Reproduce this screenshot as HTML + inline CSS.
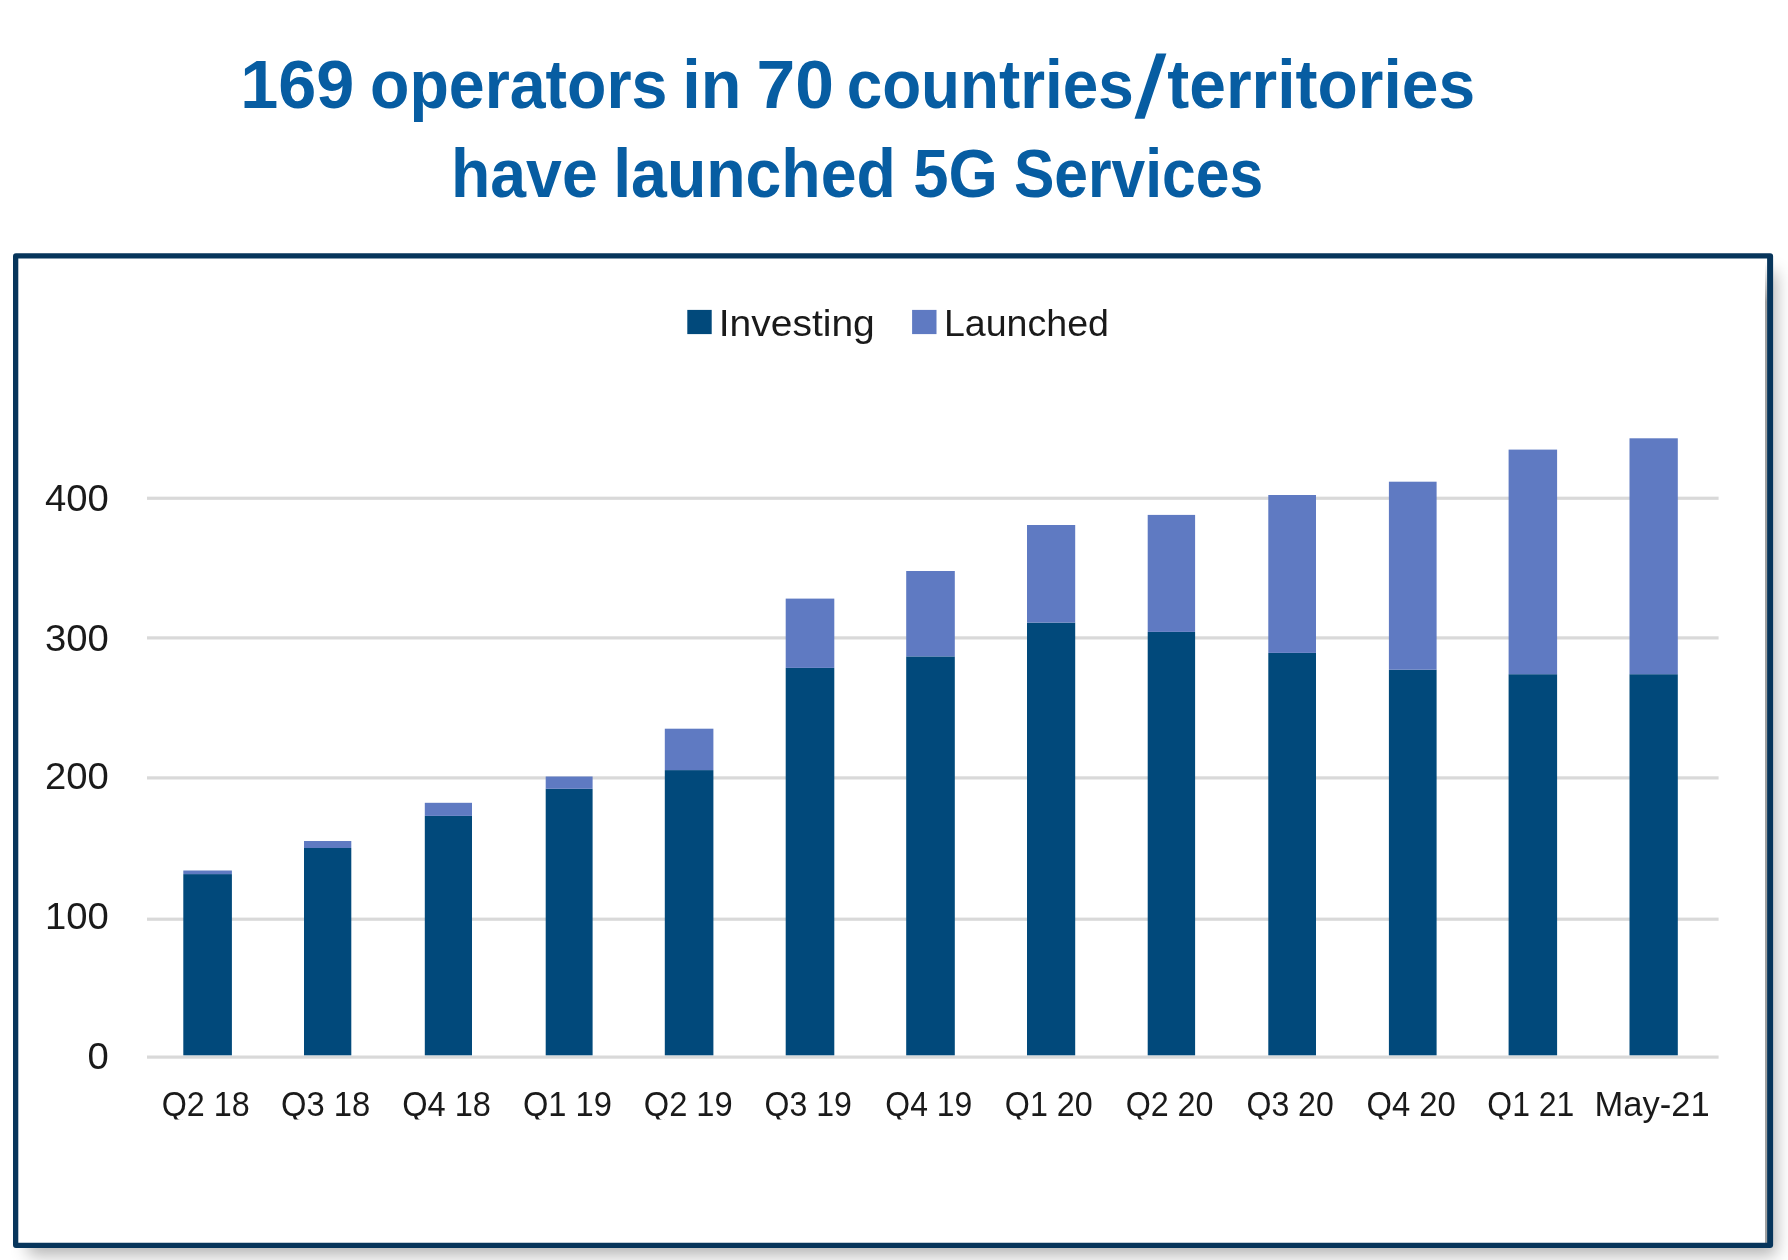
<!DOCTYPE html>
<html><head><meta charset="utf-8"><style>
html,body{margin:0;padding:0;background:#fff;}
body{width:1788px;height:1260px;position:relative;overflow:hidden;font-family:"Liberation Sans",sans-serif;}
.frame{position:absolute;left:13px;top:253px;width:1760px;height:995px;border-radius:3px;box-shadow:9px 13px 16px -6px rgba(0,0,0,0.3);background:#fff;}
</style></head><body>
<div class="frame"></div>
<div style="position:absolute;left:1765px;top:262px;width:2.1px;height:981px;background:linear-gradient(to bottom,rgba(150,150,150,0),rgba(150,150,150,0.9) 40px,rgba(150,150,150,0.9));filter:blur(0.5px)"></div>
<svg width="1788" height="1260" viewBox="0 0 1788 1260" style="position:absolute;left:0;top:0;filter:blur(0.45px)" font-family="Liberation Sans, sans-serif">
<path fill-rule="evenodd" fill="#07355b" d="M16.00 253.20H1770.10Q1773.10 253.20 1773.10 256.20V1245.00Q1773.10 1248.00 1770.10 1248.00H16.00Q13.00 1248.00 13.00 1245.00V256.20Q13.00 253.20 16.00 253.20Z M18.3 258.6H1767.1V1242.8H18.3Z"/>
<rect x="147.0" y="496.65" width="1571.60" height="3.2" fill="#d9d9d9"/>
<rect x="147.0" y="636.30" width="1571.60" height="3.2" fill="#d9d9d9"/>
<rect x="147.0" y="776.30" width="1571.60" height="3.2" fill="#d9d9d9"/>
<rect x="147.0" y="917.60" width="1571.60" height="3.2" fill="#d9d9d9"/>
<rect x="147.0" y="1055.50" width="1571.60" height="3.2" fill="#d9d9d9"/>
<rect x="183.3" y="874.10" width="48.60" height="181.20" fill="#01497b"/>
<rect x="183.3" y="870.50" width="48.60" height="3.60" fill="#5f7ac2"/>
<rect x="304.0" y="848.00" width="47.30" height="207.30" fill="#01497b"/>
<rect x="304.0" y="841.00" width="47.30" height="7.00" fill="#5f7ac2"/>
<rect x="424.8" y="815.90" width="47.20" height="239.40" fill="#01497b"/>
<rect x="424.8" y="802.80" width="47.20" height="13.10" fill="#5f7ac2"/>
<rect x="545.7" y="788.80" width="46.90" height="266.50" fill="#01497b"/>
<rect x="545.7" y="776.50" width="46.90" height="12.30" fill="#5f7ac2"/>
<rect x="664.8" y="770.10" width="48.60" height="285.20" fill="#01497b"/>
<rect x="664.8" y="728.70" width="48.60" height="41.40" fill="#5f7ac2"/>
<rect x="785.7" y="667.90" width="48.60" height="387.40" fill="#01497b"/>
<rect x="785.7" y="598.60" width="48.60" height="69.30" fill="#5f7ac2"/>
<rect x="906.2" y="656.40" width="48.60" height="398.90" fill="#01497b"/>
<rect x="906.2" y="571.00" width="48.60" height="85.40" fill="#5f7ac2"/>
<rect x="1027.0" y="622.60" width="48.20" height="432.70" fill="#01497b"/>
<rect x="1027.0" y="525.00" width="48.20" height="97.60" fill="#5f7ac2"/>
<rect x="1147.7" y="631.90" width="47.40" height="423.40" fill="#01497b"/>
<rect x="1147.7" y="514.90" width="47.40" height="117.00" fill="#5f7ac2"/>
<rect x="1268.3" y="652.90" width="47.70" height="402.40" fill="#01497b"/>
<rect x="1268.3" y="495.00" width="47.70" height="157.90" fill="#5f7ac2"/>
<rect x="1388.9" y="669.70" width="47.70" height="385.60" fill="#01497b"/>
<rect x="1388.9" y="481.70" width="47.70" height="188.00" fill="#5f7ac2"/>
<rect x="1508.6" y="674.20" width="48.50" height="381.10" fill="#01497b"/>
<rect x="1508.6" y="449.60" width="48.50" height="224.60" fill="#5f7ac2"/>
<rect x="1629.5" y="674.20" width="48.30" height="381.10" fill="#01497b"/>
<rect x="1629.5" y="438.30" width="48.30" height="235.90" fill="#5f7ac2"/>
<text transform="translate(240.16 107.70) scale(0.9880 1)" font-size="69.20" font-weight="bold" fill="#075da2">169</text>
<text transform="translate(370.02 107.70) scale(0.9321 1)" font-size="69.20" font-weight="bold" fill="#075da2">operators</text>
<text transform="translate(682.34 107.70) scale(0.9628 1)" font-size="69.20" font-weight="bold" fill="#075da2">in</text>
<text transform="translate(756.57 107.70) scale(1.0052 1)" font-size="69.20" font-weight="bold" fill="#075da2">70</text>
<text transform="translate(846.65 107.70) scale(0.9220 1)" font-size="69.20" font-weight="bold" fill="#075da2">countries</text>
<text transform="translate(1167.34 107.70) scale(0.9528 1)" font-size="69.20" font-weight="bold" fill="#075da2">territories</text>
<text transform="translate(450.99 196.60) scale(0.9302 1)" font-size="69.20" font-weight="bold" fill="#075da2">have</text>
<text transform="translate(613.19 196.60) scale(0.9306 1)" font-size="69.20" font-weight="bold" fill="#075da2">launched</text>
<text transform="translate(913.20 196.60) scale(0.9160 1)" font-size="69.20" font-weight="bold" fill="#075da2">5G</text>
<text transform="translate(1013.98 196.60) scale(0.8753 1)" font-size="69.20" font-weight="bold" fill="#075da2">Services</text>
<path fill="#075da2" d="M1134.5 118.8L1144.6 118.8L1166.4 53.4L1156.3 53.4Z"/>
<rect x="687.3" y="309.9" width="24.4" height="24.2" fill="#01497b"/>
<rect x="912.1" y="309.9" width="24.4" height="24.2" fill="#5f7ac2"/>
<text transform="translate(718.79 335.80) scale(1.0480 1)" font-size="37.20" font-weight="normal" fill="#1a1a1a">Investing</text>
<text transform="translate(943.89 335.80) scale(1.0108 1)" font-size="37.20" font-weight="normal" fill="#1a1a1a">Launched</text>
<text transform="translate(44.95 511.40) scale(1.0200 1)" font-size="37.50" font-weight="normal" fill="#1a1a1a">400</text>
<text transform="translate(44.95 651.20) scale(1.0200 1)" font-size="37.50" font-weight="normal" fill="#1a1a1a">300</text>
<text transform="translate(44.95 789.20) scale(1.0200 1)" font-size="37.50" font-weight="normal" fill="#1a1a1a">200</text>
<text transform="translate(44.95 929.00) scale(1.0200 1)" font-size="37.50" font-weight="normal" fill="#1a1a1a">100</text>
<text transform="translate(87.60 1069.00) scale(1.0200 1)" font-size="37.50" font-weight="normal" fill="#1a1a1a">0</text>
<defs><clipPath id="qc"><rect x="0" y="1000" width="1788" height="119.6"/></clipPath></defs><g clip-path="url(#qc)">
<text transform="translate(161.75 1116.20) scale(0.9270 1)" font-size="34.80" font-weight="normal" fill="#1a1a1a">Q2 18</text>
<text transform="translate(280.92 1116.20) scale(0.9422 1)" font-size="34.80" font-weight="normal" fill="#1a1a1a">Q3 18</text>
<text transform="translate(402.13 1116.20) scale(0.9368 1)" font-size="34.80" font-weight="normal" fill="#1a1a1a">Q4 18</text>
<text transform="translate(522.93 1116.20) scale(0.9386 1)" font-size="34.80" font-weight="normal" fill="#1a1a1a">Q1 19</text>
<text transform="translate(643.73 1116.20) scale(0.9386 1)" font-size="34.80" font-weight="normal" fill="#1a1a1a">Q2 19</text>
<text transform="translate(764.56 1116.20) scale(0.9211 1)" font-size="34.80" font-weight="normal" fill="#1a1a1a">Q3 19</text>
<text transform="translate(885.37 1116.20) scale(0.9156 1)" font-size="34.80" font-weight="normal" fill="#1a1a1a">Q4 19</text>
<text transform="translate(1004.85 1116.20) scale(0.9263 1)" font-size="34.80" font-weight="normal" fill="#1a1a1a">Q1 20</text>
<text transform="translate(1125.65 1116.20) scale(0.9263 1)" font-size="34.80" font-weight="normal" fill="#1a1a1a">Q2 20</text>
<text transform="translate(1246.46 1116.20) scale(0.9208 1)" font-size="34.80" font-weight="normal" fill="#1a1a1a">Q3 20</text>
<text transform="translate(1366.53 1116.20) scale(0.9415 1)" font-size="34.80" font-weight="normal" fill="#1a1a1a">Q4 20</text>
<text transform="translate(1487.36 1116.20) scale(0.9167 1)" font-size="34.80" font-weight="normal" fill="#1a1a1a">Q1 21</text>
</g>
<text transform="translate(1594.54 1116.20) scale(0.9925 1)" font-size="34.80" font-weight="normal" fill="#1a1a1a">May-21</text>
</svg>
</body></html>
